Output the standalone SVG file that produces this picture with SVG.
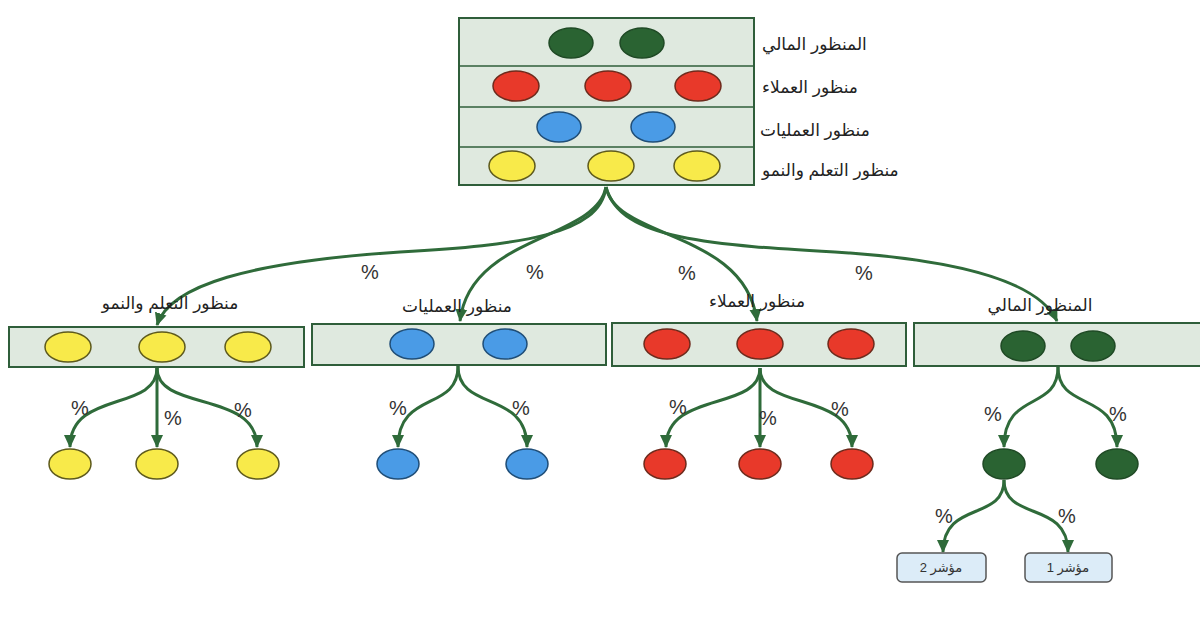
<svg xmlns="http://www.w3.org/2000/svg" width="1200" height="625" viewBox="0 0 1200 625">
<style>
.box{fill:#dfe9df;stroke:#2f5e3a;stroke-width:2}
.sep{stroke:#2f5e3a;stroke-width:1.5}
.g{fill:#2a6332;stroke:#1f4a25;stroke-width:1.5}
.r{fill:#e8392a;stroke:#6e2a1c;stroke-width:1.5}
.b{fill:#4a9be6;stroke:#1f4e78;stroke-width:1.5}
.y{fill:#f8ea4a;stroke:#5e5a1c;stroke-width:1.5}
.lbl{font-family:"Liberation Sans","DejaVu Sans",sans-serif;font-size:17px;fill:#222}
.pct{font-family:"Liberation Sans",Arial,sans-serif;font-size:20px;fill:#333;text-anchor:middle}
.con{fill:none;stroke:#2f6b3a;stroke-width:3;marker-end:url(#ah)}
.kpi{fill:#dcecf8;stroke:#555;stroke-width:1.5}
.kt{font-family:"Liberation Sans","DejaVu Sans",sans-serif;font-size:13px;fill:#333;text-anchor:middle}
</style>
<defs>
<marker id="ah" markerUnits="userSpaceOnUse" markerWidth="14" markerHeight="14" viewBox="0 0 14 14" refX="12" refY="7" orient="auto">
<path d="M0,1 L13,7 L0,13 Z" fill="#2f6b3a"/>
</marker>
</defs>

<g id="top">
<rect class="box" x="459" y="18" width="295" height="167"/>
<line class="sep" x1="459" y1="66" x2="754" y2="66"/>
<line class="sep" x1="459" y1="107" x2="754" y2="107"/>
<line class="sep" x1="459" y1="147" x2="754" y2="147"/>
<ellipse class="g" cx="571" cy="43" rx="22" ry="15"/>
<ellipse class="g" cx="642" cy="43" rx="22" ry="15"/>
<ellipse class="r" cx="516" cy="86" rx="23" ry="15"/>
<ellipse class="r" cx="608" cy="86" rx="23" ry="15"/>
<ellipse class="r" cx="698" cy="86" rx="23" ry="15"/>
<ellipse class="b" cx="559" cy="127" rx="22" ry="15"/>
<ellipse class="b" cx="653" cy="127" rx="22" ry="15"/>
<ellipse class="y" cx="512" cy="166" rx="23" ry="15"/>
<ellipse class="y" cx="611" cy="166" rx="23" ry="15"/>
<ellipse class="y" cx="697" cy="166" rx="23" ry="15"/>
<text class="lbl" x="762" y="50">المنظور المالي</text>
<text class="lbl" x="762" y="93">منظور العملاء</text>
<text class="lbl" x="760" y="136">منظور العمليات</text>
<text class="lbl" x="762" y="176">منظور التعلم والنمو</text>
</g>

<g id="connectors">
<path class="con" d="M606,187 C600,235 520,245 400,252 C250,262 170,285 157,325"/>
<path class="con" d="M606,187 C596,240 470,235 460,321"/>
<path class="con" d="M606,187 C616,240 745,230 757,321"/>
<path class="con" d="M606,187 C620,240 710,245 850,253 C970,262 1040,285 1057,321"/>
<path class="con" d="M157,368 C157,412 70,390 70,447"/>
<path class="con" d="M157,368 L157,447"/>
<path class="con" d="M157,368 C157,412 257,390 257,447"/>
<path class="con" d="M458,366 C458,412 398,390 398,447"/>
<path class="con" d="M458,366 C458,412 527,390 527,447"/>
<path class="con" d="M760,368 C760,412 666,390 666,447"/>
<path class="con" d="M760,368 L760,447"/>
<path class="con" d="M760,368 C760,412 852,390 852,447"/>
<path class="con" d="M1058,367 C1058,412 1004,390 1004,447"/>
<path class="con" d="M1058,367 C1058,412 1117,390 1117,447"/>
<path class="con" d="M1004,480 C1004,522 943,500 943,552"/>
<path class="con" d="M1004,480 C1004,522 1068,500 1068,552"/>
</g>

<g id="pcts">
<text class="pct" x="370" y="279">%</text>
<text class="pct" x="535" y="279">%</text>
<text class="pct" x="687" y="280">%</text>
<text class="pct" x="864" y="280">%</text>
<text class="pct" x="80" y="415">%</text>
<text class="pct" x="173" y="425">%</text>
<text class="pct" x="243" y="417">%</text>
<text class="pct" x="398" y="415">%</text>
<text class="pct" x="521" y="415">%</text>
<text class="pct" x="678" y="414">%</text>
<text class="pct" x="768" y="425">%</text>
<text class="pct" x="840" y="416">%</text>
<text class="pct" x="993" y="421">%</text>
<text class="pct" x="1118" y="421">%</text>
<text class="pct" x="944" y="523">%</text>
<text class="pct" x="1067" y="523">%</text>
</g>

<g id="learning">
<text class="lbl" x="170" y="309" text-anchor="middle">منظور التعلم والنمو</text>
<rect class="box" x="9" y="327" width="295" height="40"/>
<ellipse class="y" cx="68" cy="347" rx="23" ry="15"/>
<ellipse class="y" cx="162" cy="347" rx="23" ry="15"/>
<ellipse class="y" cx="248" cy="347" rx="23" ry="15"/>
<ellipse class="y" cx="70" cy="464" rx="21" ry="15"/>
<ellipse class="y" cx="157" cy="464" rx="21" ry="15"/>
<ellipse class="y" cx="258" cy="464" rx="21" ry="15"/>
</g>

<g id="process">
<text class="lbl" x="457" y="312" text-anchor="middle">منظور العمليات</text>
<rect class="box" x="312" y="324" width="294" height="41"/>
<ellipse class="b" cx="412" cy="344" rx="22" ry="15"/>
<ellipse class="b" cx="505" cy="344" rx="22" ry="15"/>
<ellipse class="b" cx="398" cy="464" rx="21" ry="15"/>
<ellipse class="b" cx="527" cy="464" rx="21" ry="15"/>
</g>

<g id="customers">
<text class="lbl" x="757" y="307" text-anchor="middle">منظور العملاء</text>
<rect class="box" x="612" y="323" width="294" height="43"/>
<ellipse class="r" cx="667" cy="344" rx="23" ry="15"/>
<ellipse class="r" cx="760" cy="344" rx="23" ry="15"/>
<ellipse class="r" cx="851" cy="344" rx="23" ry="15"/>
<ellipse class="r" cx="665" cy="464" rx="21" ry="15"/>
<ellipse class="r" cx="760" cy="464" rx="21" ry="15"/>
<ellipse class="r" cx="852" cy="464" rx="21" ry="15"/>
</g>

<g id="financial">
<text class="lbl" x="1040" y="311" text-anchor="middle">المنظور المالي</text>
<rect class="box" x="914" y="323" width="290" height="43"/>
<ellipse class="g" cx="1023" cy="346" rx="22" ry="15"/>
<ellipse class="g" cx="1093" cy="346" rx="22" ry="15"/>
<ellipse class="g" cx="1004" cy="464" rx="21" ry="15"/>
<ellipse class="g" cx="1117" cy="464" rx="21" ry="15"/>
</g>

<g id="kpi2">
<rect class="kpi" x="897" y="553" width="89" height="29" rx="5"/>
<text class="kt" x="941" y="572">مؤشر 2</text>
</g>
<g id="kpi1">
<rect class="kpi" x="1025" y="553" width="87" height="29" rx="5"/>
<text class="kt" x="1068" y="572">مؤشر 1</text>
</g>
</svg>
